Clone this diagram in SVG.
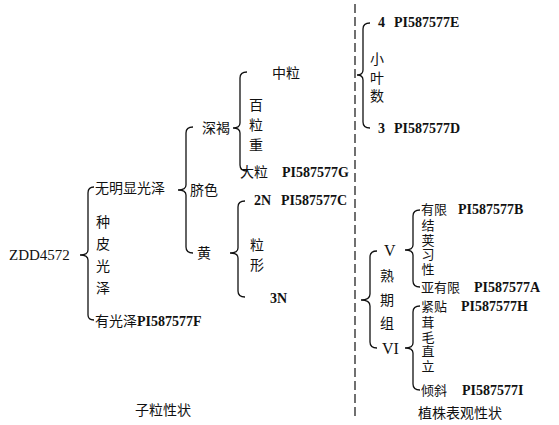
<svg xmlns="http://www.w3.org/2000/svg" width="559" height="425" viewBox="0 0 559 425">
<style>
.t{font-family:"Liberation Serif","Noto Sans CJK SC",serif;font-size:14px;fill:#111;font-weight:bold}
.r{font-family:"Liberation Serif",serif;fill:#111;font-weight:normal}
.c{font-family:"Noto Sans CJK SC",sans-serif;font-size:14px;fill:#111}
.m{font-family:"Noto Sans CJK SC",sans-serif;font-size:13px;fill:#111}
.v{font-family:"Noto Sans CJK SC",sans-serif;font-size:13px;fill:#111;writing-mode:vertical-rl;letter-spacing:1.5px}
.b{fill:none;stroke:#111;stroke-width:1.3}
.d{fill:none;stroke:#111;stroke-width:1.2;stroke-dasharray:9 4}
</style>
<rect width="559" height="425" fill="#fff"/>
<g id="connectors">
<path class="d" d="M355,4 L355,420"/>
<path class="b" d="M94,187 Q88,187 88,193 L88,250 Q88,255 80,255 Q88,255 88,260 L88,315 Q88,320 94,320"/>
<path class="b" d="M193,127 Q186,127 186,133 L186,185 Q186,190 178,190 Q186,190 186,195 L186,247 Q186,253 193,253"/>
<path class="b" d="M247,72 Q240,72 240,78 L240,123 Q240,128 233,128 Q240,128 240,133 L240,165 Q240,171 247,171"/>
<path class="b" d="M245,201 Q238,201 238,207 L238,248 Q238,253 230,253 Q238,253 238,258 L238,291 Q238,297 245,297"/>
<path class="b" d="M370,23 Q363,23 363,29 L363,70 Q363,75 357,75 Q363,75 363,80 L363,122 Q363,128 370,128"/>
<path class="b" d="M377,251 Q370,251 370,257 L370,294 Q370,300 361,300 Q370,300 370,306 L370,342 Q370,348 377,348"/>
<path class="b" d="M420,210 Q413,210 413,216 L413,245 Q413,250 405,250 Q413,250 413,255 L413,281 Q413,287 420,287"/>
<path class="b" d="M420,306 Q413,306 413,312 L413,343 Q413,348 405,348 Q413,348 413,353 L413,384 Q413,390 420,390"/>
</g>
<g id="root"><text class="r" x="9" y="260" font-size="15">ZDD4572</text></g>
<g id="wumingxian"><text class="c" x="95" y="193">无明显光泽</text></g>
<g id="zhongpi"><text class="c" x="96" y="227">种</text><text class="c" x="96" y="249">皮</text><text class="c" x="96" y="271">光</text><text class="c" x="96" y="293">泽</text></g>
<g id="youguangze"><text class="c" x="95" y="326">有光泽<tspan class="t">PI587577F</tspan></text></g>
<g id="qise"><text class="c" x="190" y="195">脐色</text></g>
<g id="shenhe"><text class="c" x="202" y="133">深褐</text></g>
<g id="huang"><text class="c" x="197" y="258">黄</text></g>
<g id="zhongli"><text class="c" x="272" y="78">中粒</text></g>
<g id="bailizhong"><text class="c" x="249" y="110">百</text><text class="c" x="249" y="130">粒</text><text class="c" x="249" y="150">重</text></g>
<g id="dali"><text class="c" x="240" y="177">大粒<tspan class="t" x="282">PI587577G</tspan></text></g>
<g id="n2"><text class="t" x="254" y="205">2N<tspan x="281">PI587577C</tspan></text></g>
<g id="lixing"><text class="c" x="250" y="250">粒</text><text class="c" x="250" y="270">形</text></g>
<g id="n3"><text class="t" x="270" y="303">3N</text></g>
<g id="ziliguo"><text class="c" x="135" y="415">子粒性状</text></g>
<g id="l4"><text class="t" x="378" y="27">4<tspan x="394">PI587577E</tspan></text></g>
<g id="xiaoyeshu"><text class="c" x="377" y="52" style="writing-mode:vertical-rl;letter-spacing:4.5px">小叶数</text></g>
<g id="l3"><text class="t" x="378" y="133">3<tspan x="394">PI587577D</tspan></text></g>
<g id="V"><text class="r" x="384" y="256" font-size="16">V</text></g>
<g id="shuqizu"><text class="c" x="380" y="281">熟</text><text class="c" x="380" y="305">期</text><text class="c" x="380" y="328">组</text></g>
<g id="VI"><text class="r" x="382" y="354" font-size="16">VI</text></g>
<g id="youxian"><text class="m" x="421" y="214">有限<tspan class="t" x="458">PI587577B</tspan></text></g>
<g id="jiejia"><text class="v" x="428" y="219">结荚习性</text></g>
<g id="yayouxian"><text class="m" x="421" y="292">亚有限<tspan class="t" x="474">PI587577A</tspan></text></g>
<g id="jintie"><text class="m" x="421" y="311">紧贴<tspan class="t" x="461">PI587577H</tspan></text></g>
<g id="rongmao"><text class="v" x="428" y="316">茸毛直立</text></g>
<g id="qingxie"><text class="m" x="421" y="395">倾斜<tspan class="t" x="462">PI587577I</tspan></text></g>
<g id="zhizhu"><text class="c" x="418" y="418">植株表观性状</text></g>
</svg>
